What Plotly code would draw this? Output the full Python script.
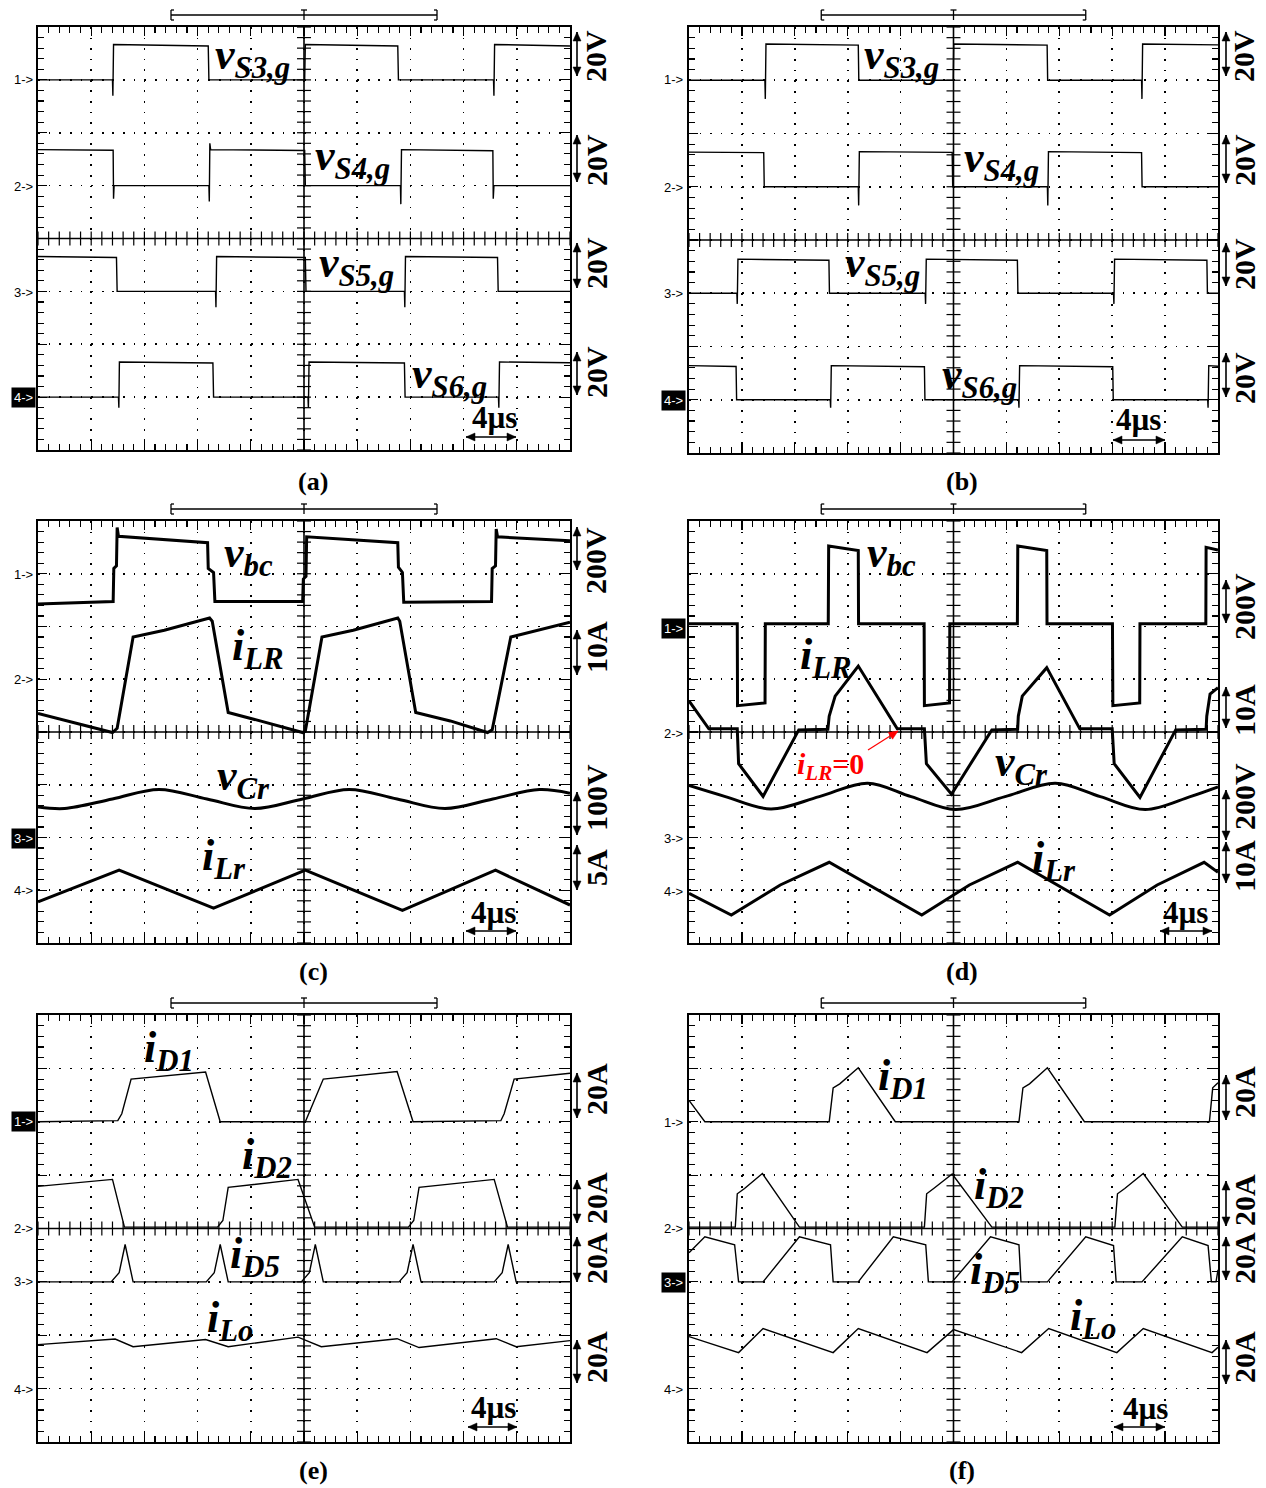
import math
import plotly.graph_objects as go

W, H = 1266, 1488

# ===================== DATA (time in µs, values in V or A) =====================
# ---- (a) gate voltages, 20 V/div
a_vS3_t = [0, 5.6, 5.63, 5.68, 12.8, 12.85, 20.05, 20.1, 27.05, 27.1, 34.25, 34.28, 34.33, 40]
a_vS3_v = [0, 0, -6, 13.4, 12.8, 0, 0, 13.4, 12.8, 0, 0, -6, 13.4, 12.8]
a_vS4_t = [0, 5.65, 5.68, 5.72, 12.85, 12.88, 12.92, 12.98, 20.05, 20.1, 27.25, 27.28, 27.33, 34.2, 34.23, 34.28, 40]
a_vS4_v = [13.6, 13.4, -5, 0, 0, -6, 16, 13.6, 13.3, 0, 0, -7, 13.6, 13.2, -5, 0, 0]
a_vS5_t = [0, 5.9, 5.95, 13.35, 13.38, 13.43, 20.1, 20.15, 27.55, 27.58, 27.63, 34.55, 34.6, 40]
a_vS5_v = [13.2, 12.8, 0, 0, -6, 13.2, 12.8, 0, 0, -6, 13.2, 12.8, 0, 0]
a_vS6_t = [0, 6.05, 6.08, 6.12, 13.15, 13.2, 20.3, 20.33, 20.38, 27.55, 27.6, 34.62, 34.65, 34.7, 40]
a_vS6_v = [0, 0, -4, 13.3, 12.9, 0, 0, -4, 13.3, 12.9, 0, 0, -4, 13.3, 13.0]

# ---- (b) gate voltages, 20 V/div
b_vS3_t = [0, 5.74, 5.77, 5.82, 12.8, 12.84, 19.98, 20.02, 27.08, 27.12, 34.22, 34.25, 34.3, 40]
b_vS3_v = [0, 0, -7, 13.6, 13.2, 0, 0, 13.6, 13.2, 0, 0, -7, 13.6, 13.3]
b_vS4_t = [0, 5.65, 5.69, 12.8, 12.83, 12.88, 19.9, 19.94, 27.1, 27.13, 27.18, 34.22, 34.26, 40]
b_vS4_v = [13.0, 12.8, 0, 0, -7, 13.2, 12.9, 0, 0, -7, 13.2, 12.8, 0, 0]
b_vS5_t = [0, 3.62, 3.65, 3.7, 10.58, 10.62, 17.86, 17.89, 17.94, 24.83, 24.87, 32.1, 32.13, 32.18, 39.16, 39.2, 40]
b_vS5_v = [0, 0, -4, 12.8, 12.4, 0, 0, -4, 12.8, 12.4, 0, 0, -4, 12.8, 12.4, 0, 0]
b_vS6_t = [0, 3.56, 3.6, 10.68, 10.71, 10.76, 17.8, 17.84, 24.92, 24.95, 25.0, 32.04, 32.08, 39.22, 39.25, 39.3, 40]
b_vS6_v = [12.8, 12.5, 0, 0, -3, 12.8, 12.4, 0, 0, -3, 12.8, 12.4, 0, 0, -3, 12.8, 12.6]

# ---- (c) v_bc 200 V/div, i_LR 10 A/div, v_Cr 100 V/div, i_Lr 5 A/div
c_vbc_t = [0, 5.65, 5.7, 5.9, 5.95, 6.05, 12.75, 12.8, 13.2, 13.3, 19.9, 19.95, 20.15, 20.2,
           27.05, 27.1, 27.4, 27.5, 34.1, 34.15, 34.4, 34.45, 34.55, 40]
c_vbc_v = [-115, -105, 20, 30, 175, 142, 118, 20, 5, -105, -105, -20, -10, 140,
           118, 25, 5, -108, -105, 20, 30, 170, 140, 125]
c_iLR_t = [0, 5.6, 5.95, 7.15, 9.5, 12.9, 13.1, 14.3, 16.7, 19.9, 20.1, 21.35, 23.7, 27.05,
           27.2, 28.4, 31.0, 33.8, 34.15, 35.55, 40]
c_iLR_v = [-6.5, -10.1, -9.3, 8.0, 9.3, 11.6, 11.0, -6.3, -7.9, -10.1, -9.8, 8.0, 9.3, 11.6,
           11.0, -6.3, -7.9, -10.1, -9.6, 8.0, 10.8]
c_vCr_t = [0, 2.0, 5.6, 9.1, 12.7, 16.3, 19.9, 23.4, 27.0, 30.6, 34.2, 37.7, 40]
c_vCr_v = [58, 55, 73, 91, 73, 55, 73, 91, 73, 55, 73, 91, 84]
c_iLr_t = [0, 6.1, 13.2, 20.1, 27.4, 34.4, 40]
c_iLr_v = [-1.1, 1.9, -1.7, 1.9, -1.9, 1.9, -1.4]

# ---- (d) v_bc 200 V/div, i_LR 10 A/div, v_Cr 200 V/div, i_Lr 10 A/div
d_vbc_t = [0, 3.65, 3.67, 5.75, 5.77, 10.53, 10.56, 12.8, 12.82, 17.78, 17.8, 19.7, 19.72,
           24.83, 24.86, 27.05, 27.07, 32.02, 32.05, 34.08, 34.1, 39.08, 39.1, 40]
d_vbc_v = [10, 10, -300, -290, 10, 10, 305, 288, 10, 10, -300, -290, 10,
           10, 305, 288, 10, 10, -300, -290, 10, 10, 300, 290]
d_iLR_t = [0, 1.5, 3.65, 3.75, 5.6, 8.3, 10.5, 10.6, 11.05, 12.8, 15.75, 17.8, 17.95, 19.85,
           22.9, 24.85, 24.9, 25.2, 27.05, 29.55, 32.0, 32.15, 34.1, 36.8, 39.1, 39.15, 39.4, 40]
d_iLR_v = [5.9, 0.6, 0.6, -6.0, -12.2, 0.4, 0.5, 3.0, 6.8, 12.5, 0.6, 0.6, -6.0, -11.8,
           0.4, 0.5, 3.0, 6.8, 12.2, 0.6, 0.6, -6.0, -12.4, 0.4, 0.5, 3.0, 7.2, 8.4]
d_vCr_t = [0, 2.75, 6.2, 9.85, 13.5, 16.8, 20.15, 23.9, 27.7, 31.1, 34.5, 37.9, 40]
d_vCr_v = [197, 155, 108, 155, 206, 155, 106, 155, 206, 155, 106, 155, 192]
d_iLr_t = [0, 3.2, 6.9, 10.6, 17.6, 21.2, 24.85, 31.8, 35.4, 38.95, 40]
d_iLr_v = [-0.6, -4.7, 1.0, 5.3, -4.7, 1.0, 5.3, -4.7, 1.0, 5.3, 3.4]

# ---- (e) diode / output currents, 20 A/div
e_iD1_t = [0, 6.0, 6.3, 7.0, 12.6, 13.7, 20.1, 20.35, 21.45, 27.0, 28.2, 34.8, 35.05, 35.8, 40]
e_iD1_v = [0, 0.4, 3.0, 16.0, 18.6, 0, 0, 3.0, 16.0, 18.8, 0, 0.4, 3.0, 16.0, 18.2]
e_iD2_t = [0, 5.6, 6.5, 13.5, 13.9, 14.3, 19.55, 20.8, 27.85, 28.25, 28.65, 34.3, 35.3, 40]
e_iD2_v = [15.8, 18.4, 0.5, 0.5, 3.0, 15.4, 18.4, 0.5, 0.5, 3.0, 15.4, 18.4, 0.5, 0.5]
e_iD5_t = [0, 5.5, 6.1, 6.55, 7.15, 12.65, 13.25, 13.7, 14.3, 19.8, 20.4, 20.85, 21.45,
           27.15, 27.75, 28.2, 28.8, 34.3, 34.9, 35.35, 35.95, 40]
e_iD5_v = [0, 0, 3.4, 14, 0, 0, 3.4, 14, 0, 0, 3.4, 14, 0, 0, 3.4, 14, 0, 0, 3.4, 14, 0, 0]
e_iLo_t = [0, 5.8, 7.15, 12.6, 14.3, 19.55, 21.3, 27.0, 28.65, 34.45, 35.95, 40]
e_iLo_v = [16.5, 18.6, 15.7, 18.4, 15.7, 19.3, 15.7, 18.7, 15.4, 18.7, 15.7, 18.0]

# ---- (f) diode / output currents, 20 A/div
f_iD1_t = [0, 1.2, 10.6, 10.9, 11.4, 12.8, 15.6, 24.95, 25.25, 25.75, 27.1, 29.9, 39.35, 39.6, 40]
f_iD1_v = [8.0, 0, 0, 12.7, 14.2, 20.2, 0, 0, 12.7, 14.2, 20.2, 0, 0, 12.7, 14.6]
f_iD2_t = [0, 3.5, 3.65, 4.2, 5.55, 8.35, 17.8, 17.97, 18.5, 19.9, 22.9, 32.2, 32.4, 32.95, 34.35, 37.3, 40]
f_iD2_v = [0.5, 0.5, 13.0, 15.0, 20.6, 0.5, 0.5, 13.0, 15.0, 20.4, 0.5, 0.5, 13.0, 15.0, 20.6, 0.5, 0.5]
f_iD5_t = [0, 1.2, 3.45, 3.75, 5.6, 8.35, 10.7, 10.9, 12.8, 15.45, 17.9, 18.1, 19.9, 22.8,
           24.95, 25.1, 27.1, 30.0, 32.1, 32.3, 34.25, 37.3, 39.25, 39.5, 39.85, 40]
f_iD5_v = [10.9, 16.9, 13.9, 0, 0, 16.9, 13.9, 0, 0, 16.9, 13.9, 0, 0, 16.9,
           13.9, 0, 0, 16.9, 13.6, 0, 0, 16.9, 13.6, 0, 0, 4.5]
f_iLo_t = [0, 3.75, 5.6, 10.9, 12.8, 18.0, 20.0, 25.15, 27.2, 32.35, 34.35, 39.55, 40]
f_iLo_v = [19.5, 13.5, 22.5, 13.5, 22.5, 13.5, 22.1, 13.5, 22.5, 13.5, 22.5, 13.5, 15.5]

# channel definitions: (time, values, units per division, ground position in divisions, shape)
CHANNELS = {
    'a': [(a_vS3_t, a_vS3_v, 20, 3, 'linear'), (a_vS4_t, a_vS4_v, 20, 1, 'linear'),
          (a_vS5_t, a_vS5_v, 20, -1, 'linear'), (a_vS6_t, a_vS6_v, 20, -3, 'linear')],
    'b': [(b_vS3_t, b_vS3_v, 20, 3, 'linear'), (b_vS4_t, b_vS4_v, 20, 1, 'linear'),
          (b_vS5_t, b_vS5_v, 20, -1, 'linear'), (b_vS6_t, b_vS6_v, 20, -3, 'linear')],
    'c': [(c_vbc_t, c_vbc_v, 200, 3, 'linear'), (c_iLR_t, c_iLR_v, 10, 1, 'linear'),
          (c_vCr_t, c_vCr_v, 100, -2, 'spline'), (c_iLr_t, c_iLr_v, 5, -3, 'linear')],
    'd': [(d_vbc_t, d_vbc_v, 200, 2, 'linear'), (d_iLR_t, d_iLR_v, 10, 0, 'linear'),
          (d_vCr_t, d_vCr_v, 200, -2, 'spline'), (d_iLr_t, d_iLr_v, 10, -3, 'linear')],
    'e': [(e_iD1_t, e_iD1_v, 20, 2, 'linear'), (e_iD2_t, e_iD2_v, 20, 0, 'linear'),
          (e_iD5_t, e_iD5_v, 20, -1, 'linear'), (e_iLo_t, e_iLo_v, 20, -3, 'linear')],
    'f': [(f_iD1_t, f_iD1_v, 20, 2, 'linear'), (f_iD2_t, f_iD2_v, 20, 0, 'linear'),
          (f_iD5_t, f_iD5_v, 20, -1, 'linear'), (f_iLo_t, f_iLo_v, 20, -3, 'linear')],
}

# ===================== LAYOUT GEOMETRY (page pixels) =====================
PANELS = [('a', 38, 570, 27, 450), ('b', 689, 1218, 27, 453),
          ('c', 38, 570, 521, 943), ('d', 689, 1218, 521, 943),
          ('e', 38, 570, 1015, 1442), ('f', 689, 1218, 1015, 1442)]
LINE_W = {'a': 1.4, 'b': 1.4, 'c': 3.0, 'd': 3.0, 'e': 1.4, 'f': 1.4}


def px(x):
    return x / W


def py(y):
    return 1 - y / H


fig = go.Figure()
layout = dict(width=W, height=H, margin=dict(l=0, r=0, t=0, b=0),
              paper_bgcolor='white', plot_bgcolor='white', showlegend=False)
shapes = []
annotations = []

for i, (key, x0, x1, y0, y1) in enumerate(PANELS, start=1):
    xa = 'x' if i == 1 else f'x{i}'
    ya = 'y' if i == 1 else f'y{i}'
    per_y = (y1 - y0) / 40.0
    per_x = (x1 - x0) / 50.0
    common = dict(showline=True, linecolor='black', linewidth=1.6, mirror='ticks',
                  ticks='inside', tickcolor='black', tickwidth=1.2, ticklen=9,
                  showticklabels=False, showgrid=True, gridcolor='black', gridwidth=1.7,
                  zeroline=False, fixedrange=True)
    layout['xaxis' + ('' if i == 1 else str(i))] = dict(
        domain=[px(x0), px(x1)], range=[0, 40], tick0=0, dtick=4, anchor=ya,
        griddash=f'1.7px,{per_y - 1.7:.3f}px',
        minor=dict(ticks='inside', tick0=0, dtick=0.8, ticklen=6, tickcolor='black',
                   tickwidth=1.1, showgrid=False), **common)
    layout['yaxis' + ('' if i == 1 else str(i))] = dict(
        domain=[py(y1), py(y0)], range=[-4, 4], tick0=0, dtick=1, anchor=xa,
        griddash=f'1.7px,{per_x - 1.7:.3f}px',
        minor=dict(ticks='inside', tick0=0, dtick=0.2, ticklen=6, tickcolor='black',
                   tickwidth=1.1, showgrid=False), **common)

    # solid centre cross
    shapes.append(dict(type='line', xref=xa, yref=ya, x0=20, x1=20, y0=-4, y1=4,
                       line=dict(color='black', width=1.6), layer='between'))
    shapes.append(dict(type='line', xref=xa, yref=ya, x0=0, x1=40, y0=0, y1=0,
                       line=dict(color='black', width=1.6), layer='between'))
    # ticks on the centre cross
    fig.add_trace(go.Scatter(x=[k * 0.8 for k in range(51)], y=[0] * 51, mode='markers',
                             marker=dict(symbol='line-ns', size=10, color='black',
                                         line=dict(color='black', width=1.2)),
                             xaxis=xa, yaxis=ya, hoverinfo='skip', showlegend=False))
    fig.add_trace(go.Scatter(x=[20] * 41, y=[-4 + k * 0.2 for k in range(41)], mode='markers',
                             marker=dict(symbol='line-ew', size=10, color='black',
                                         line=dict(color='black', width=1.2)),
                             xaxis=xa, yaxis=ya, hoverinfo='skip', showlegend=False))

    # waveforms
    for (t, v, scale, gnd, shape) in CHANNELS[key]:
        fig.add_trace(go.Scatter(x=t, y=[gnd + val / scale for val in v], mode='lines',
                                 line=dict(color='black', width=LINE_W[key], shape=shape,
                                           smoothing=1.0 if shape == 'spline' else None),
                                 xaxis=xa, yaxis=ya, hoverinfo='skip', showlegend=False))

    # trigger bracket above the panel
    bl = x0 + 2.5 * (x1 - x0) / 10
    br = x0 + 7.5 * (x1 - x0) / 10
    bc = (x0 + x1) / 2
    by = y0 - 12
    for seg in [(bl, by, br, by), (bl, by - 5, bl, by + 5), (br, by - 5, br, by + 5),
                (bc, by - 5, bc, by + 5), (bl, by - 5, bl + 3, by - 5), (bl, by + 5, bl + 3, by + 5),
                (br - 3, by - 5, br, by - 5), (br - 3, by + 5, br, by + 5),
                (bc - 3, by - 5, bc + 3, by - 5)]:
        shapes.append(dict(type='line', xref='paper', yref='paper', x0=px(seg[0]), y0=py(seg[1]),
                           x1=px(seg[2]), y1=py(seg[3]), line=dict(color='black', width=1.3)))


def text(x, y, t, size, family='Liberation Serif', xanchor='center', yanchor='middle',
         angle=0, color='black', weight='bold', style='normal', bg=None, pad=1):
    annotations.append(dict(x=px(x), y=py(y), xref='paper', yref='paper', text=t,
                            showarrow=False, xanchor=xanchor, yanchor=yanchor, textangle=angle,
                            font=dict(family=family, size=size, color=color, weight=weight,
                                      style=style),
                            bgcolor=bg, borderpad=pad))


def head(xt, yt, xh, yh, color, L=9, hw=4):
    """filled triangular arrow head at (xh, yh), pointing away from (xt, yt)."""
    d = math.hypot(xh - xt, yh - yt)
    ux, uy = (xh - xt) / d, (yh - yt) / d
    bx, by_ = xh - ux * L, yh - uy * L
    p1 = (bx - uy * hw, by_ + ux * hw)
    p2 = (bx + uy * hw, by_ - ux * hw)
    path = (f'M {px(xh):.6f},{py(yh):.6f} L {px(p1[0]):.6f},{py(p1[1]):.6f} '
            f'L {px(p2[0]):.6f},{py(p2[1]):.6f} Z')
    shapes.append(dict(type='path', xref='paper', yref='paper', path=path,
                       fillcolor=color, line=dict(color=color, width=0.5)))


def arrow(xt, yt, xh, yh, both=True, color='black', width=1.6):
    shapes.append(dict(type='line', xref='paper', yref='paper', x0=px(xt), y0=py(yt),
                       x1=px(xh), y1=py(yh), line=dict(color=color, width=width)))
    head(xt, yt, xh, yh, color)
    if both:
        head(xh, yh, xt, yt, color)


# signal labels (x left, y centre)
SIG_LABELS = [
    (213, 58, 'v<sub>S3,g</sub>'), (313, 158, 'v<sub>S4,g</sub>'),
    (317, 266, 'v<sub>S5,g</sub>'), (410, 376, 'v<sub>S6,g</sub>'),
    (862, 58, 'v<sub>S3,g</sub>'), (962, 160, 'v<sub>S4,g</sub>'),
    (843, 266, 'v<sub>S5,g</sub>'), (940, 377, 'v<sub>S6,g</sub>'),
    (222, 555, 'v<sub>bc</sub>'), (230, 648, 'i<sub>LR</sub>'),
    (215, 778, 'v<sub>Cr</sub>'), (200, 858, 'i<sub>Lr</sub>'),
    (865, 555, 'v<sub>bc</sub>'), (798, 658, 'i<sub>LR</sub>'),
    (993, 764, 'v<sub>Cr</sub>'), (1030, 860, 'i<sub>Lr</sub>'),
    (142, 1050, 'i<sub>D1</sub>'), (240, 1157, 'i<sub>D2</sub>'),
    (228, 1256, 'i<sub>D5</sub>'), (205, 1320, 'i<sub>Lo</sub>'),
    (876, 1078, 'i<sub>D1</sub>'), (972, 1187, 'i<sub>D2</sub>'),
    (968, 1272, 'i<sub>D5</sub>'), (1068, 1318, 'i<sub>Lo</sub>'),
]
for (x, y, t) in SIG_LABELS:
    text(x, y, t, 44, xanchor='left', style='italic')

# red annotation in (d)
text(795, 766, 'i<sub>LR</sub><span style="font-style:normal">=0</span>', 30,
     xanchor='left', color='red', style='italic')
arrow(868, 750, 898, 731, both=False, color='red', width=1.2)

# volts/amps per division labels with double arrows
SCALE_LABELS = [
    (596, 56, '20V'), (596, 160, '20V'), (596, 263, '20V'), (596, 372, '20V'),
    (1244, 56, '20V'), (1244, 160, '20V'), (1244, 264, '20V'), (1244, 378, '20V'),
    (596, 561, '200V'), (596, 647, '10A'), (596, 798, '100V'), (596, 868, '5A'),
    (1244, 607, '200V'), (1244, 710, '10A'), (1244, 797, '200V'), (1244, 866, '10A'),
    (596, 1089, '20A'), (596, 1198, '20A'), (596, 1258, '20A'), (596, 1357, '20A'),
    (1244, 1092, '20A'), (1244, 1200, '20A'), (1244, 1258, '20A'), (1244, 1357, '20A'),
]
for (x, y, t) in SCALE_LABELS:
    text(x, y, t, 30, angle=-90)

SCALE_ARROWS = [
    (577, 32, 76), (577, 135, 182), (577, 243, 288), (577, 352, 395),
    (1226, 32, 76), (1226, 135, 183), (1226, 243, 286), (1226, 353, 397),
    (577, 527, 570), (577, 630, 675), (577, 792, 835), (577, 845, 890),
    (1226, 580, 623), (1226, 687, 728), (1226, 790, 840), (1226, 842, 883),
    (577, 1073, 1118), (577, 1180, 1223), (577, 1237, 1282), (577, 1340, 1383),
    (1226, 1075, 1120), (1226, 1181, 1226), (1226, 1237, 1280), (1226, 1340, 1384),
]
for (x, ya_, yb_) in SCALE_ARROWS:
    arrow(x, yb_, x, ya_)

# time-scale markers
TIME_MARKS = [(494, 418, 466, 516, 437), (1138, 420, 1113, 1165, 440),
              (493, 912, 466, 516, 931), (1185, 912, 1160, 1212, 931),
              (493, 1407, 468, 517, 1427), (1145, 1408, 1114, 1165, 1427)]
for (tx, ty, ax0, ax1, ay_) in TIME_MARKS:
    text(tx, ty, '4µs', 31)
    arrow(ax0, ay_, ax1, ay_)

# channel markers
CH_MARKS = [
    (36, 80, '1->', False), (36, 186, '2->', False), (36, 292, '3->', False), (36, 397, '4->', True),
    (686, 79, '1->', False), (686, 187, '2->', False), (686, 293, '3->', False), (686, 400, '4->', True),
    (36, 574, '1->', False), (36, 679, '2->', False), (36, 838, '3->', True), (36, 890, '4->', False),
    (686, 628, '1->', True), (686, 733, '2->', False), (686, 838, '3->', False), (686, 891, '4->', False),
    (36, 1121, '1->', True), (36, 1228, '2->', False), (36, 1281, '3->', False), (36, 1389, '4->', False),
    (686, 1122, '1->', False), (686, 1228, '2->', False), (686, 1282, '3->', True), (686, 1389, '4->', False),
]
for (x, y, t, inv) in CH_MARKS:
    text(x, y, t, 13, family='Liberation Sans', xanchor='right', weight='normal',
         color='white' if inv else 'black', bg='black' if inv else None, pad=2)

# captions
for (x, y, t) in [(313, 481, '(a)'), (962, 481, '(b)'), (313, 971, '(c)'),
                  (962, 971, '(d)'), (313, 1470, '(e)'), (962, 1470, '(f)')]:
    text(x, y, t, 26)

layout['shapes'] = shapes
layout['annotations'] = annotations
fig.update_layout(**layout)
# remove the default 8px page margin so the 1266x1488 figure fills the window exactly
fig.write_html('out.html', config={'displayModeBar': False, 'staticPlot': True},
               post_script="document.body.style.margin='0px';document.body.style.overflow='hidden';")
